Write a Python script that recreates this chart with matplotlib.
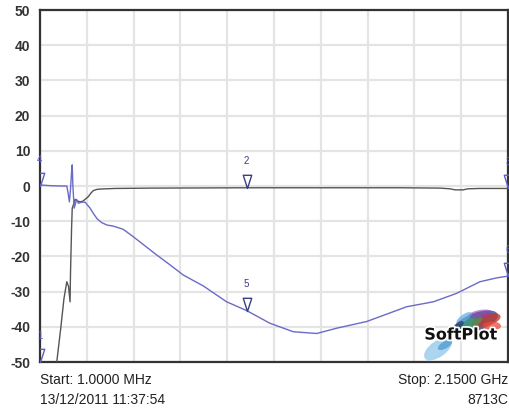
import matplotlib
matplotlib.use("Agg")
import matplotlib.pyplot as plt
import matplotlib.patheffects as pe
from matplotlib.path import Path
from matplotlib.patches import Ellipse

# ---- data (frequency in MHz, level in dB) ----
black_freq = [47, 78, 97, 111, 124, 132, 139, 141, 146, 149, 154, 162, 171, 185, 198,
              212, 223, 235, 246, 263, 284, 345, 506, 736, 965, 1195, 1424, 1654,
              1838, 1884, 1907, 1943, 1966, 2021, 2150]
black_db = [-60, -50, -40, -32, -27.2, -28.5, -32.9, -25, -12, -6.3, -5.4, -3.8, -4.2,
            -4.5, -4.3, -3.6, -3.0, -2.0, -1.3, -0.95, -0.85, -0.7, -0.6, -0.55, -0.5,
            -0.5, -0.5, -0.5, -0.6, -0.8, -1.1, -1.1, -0.8, -0.7, -0.7]

blue_freq = [1, 47, 93, 124, 130, 136, 141, 146, 149, 152, 158, 169, 177, 192, 208,
             231, 246, 263, 284, 309, 338, 383, 429, 483, 537, 598, 659, 751, 858,
             950, 1057, 1164, 1272, 1363, 1501, 1685, 1807, 1914, 2021, 2098, 2150]
blue_db = [0.3, 0.1, 0.0, 0.0, -2.0, -4.5, -1.0, 4.0, 6.0, 0.0, -6.3, -3.8, -4.9, -4.6,
           -4.6, -6.3, -7.8, -9.3, -10.4, -11.1, -11.4, -12.3, -14.4, -17.0, -19.6,
           -22.4, -25.3, -28.4, -32.9, -35.4, -39.0, -41.4, -41.9, -40.4, -38.5, -34.3,
           -32.9, -30.5, -27.2, -26.1, -25.6]

marker_labels = ["1", "2", "3", "4", "5", "6"]
marker_freq = [1, 950, 2150, 1, 950, 2150]
marker_db = [-50, -0.5, -0.7, 0.0, -35.4, -25.6]

y_ticks = [-50, -40, -30, -20, -10, 0, 10, 20, 30, 40, 50]
x_grid = [1 + i * 214.9 for i in range(11)]

start_text = "Start: 1.0000 MHz"
stop_text = "Stop: 2.1500 GHz"
date_text = "13/12/2011 11:37:54"
model_text = "8713C"

plt.rcParams['font.family'] = ['Liberation Sans', 'DejaVu Sans']

fig = plt.figure(figsize=(5.10, 4.09), dpi=100)
ax = fig.add_axes([40 / 510, 47 / 409, 468 / 510, 352 / 409])
ax.set_xlim(1, 2150)
ax.set_ylim(-50, 50)

ax.set_yticks(y_ticks)
ax.set_yticklabels([str(v) for v in y_ticks], fontsize=10, fontweight='bold', color='#333333')
ax.set_xticks(x_grid)
ax.set_xticklabels([])
ax.tick_params(axis='both', length=0, pad=7)
ax.grid(True, color='#e4e4e4', linewidth=1.6)
ax.set_axisbelow(True)
for s in ax.spines.values():
    s.set_color('#333333')
    s.set_linewidth(1.6)

ax.plot(black_freq, black_db, color='#555555', linewidth=1.0, zorder=3)
ax.plot(blue_freq, blue_db, color='#6a6ac8', linewidth=1.0, zorder=4)

tri = Path([(-0.32, 1.0), (0.32, 1.0), (0.0, 0.0), (-0.32, 1.0)],
           [Path.MOVETO, Path.LINETO, Path.LINETO, Path.CLOSEPOLY])
for lab, f, d in zip(marker_labels, marker_freq, marker_db):
    col = '#3a3f80' if lab in ("2", "5") else '#5a5fc0'
    ax.plot([f], [d], marker=tri, markersize=19, markerfacecolor='none',
            markeredgecolor=col, markeredgewidth=1.0, zorder=5)
    t = ax.annotate(lab, (f, d), xytext=(0, 19), textcoords='offset points',
                    ha='center', va='center', fontsize=7, color=col, zorder=5)
    t.set_clip_on(True)

# SoftPlot logo (decoration) in a small pixel-scaled inset
lg = fig.add_axes([418 / 510, 47 / 409, 84 / 510, 56 / 409])
lg.set_xlim(0, 84)
lg.set_ylim(0, 56)
lg.axis('off')
blobs = [((58, 40), 46, 18, 20, '#2c3e8c', 0.75),
         ((68, 42), 30, 12, 15, '#c0392b', 0.8),
         ((52, 38), 28, 10, 30, '#27ae60', 0.6),
         ((62, 48), 24, 8, 10, '#8e44ad', 0.6),
         ((74, 36), 18, 9, 0, '#e74c3c', 0.75),
         ((46, 44), 18, 7, 35, '#5dade2', 0.7),
         ((40, 36), 14, 6, 40, '#1f2d5a', 0.6),
         ((20, 13), 32, 16, 35, '#85c1e9', 0.7),
         ((15, 9), 20, 9, 50, '#aed6f1', 0.7),
         ((27, 17), 16, 7, 30, '#2e86c1', 0.55)]
for (c, w, h, a, col, al) in blobs:
    lg.add_patch(Ellipse(c, w, h, angle=a, color=col, alpha=al, linewidth=0))
lg.text(43, 27, "SoftPlot", fontsize=11.5, fontweight='bold', family='DejaVu Sans',
        color='#111111', ha='center', va='center',
        path_effects=[pe.withStroke(linewidth=2.5, foreground='white')])

fig.text(40 / 510, 1 - 380 / 409, start_text, fontsize=10, color='#222222', ha='left', va='center')
fig.text(40 / 510, 1 - 400 / 409, date_text, fontsize=10, color='#222222', ha='left', va='center')
fig.text(508 / 510, 1 - 380 / 409, stop_text, fontsize=10, color='#222222', ha='right', va='center')
fig.text(508 / 510, 1 - 400 / 409, model_text, fontsize=10, color='#222222', ha='right', va='center')

fig.savefig("out.png", dpi=100)
